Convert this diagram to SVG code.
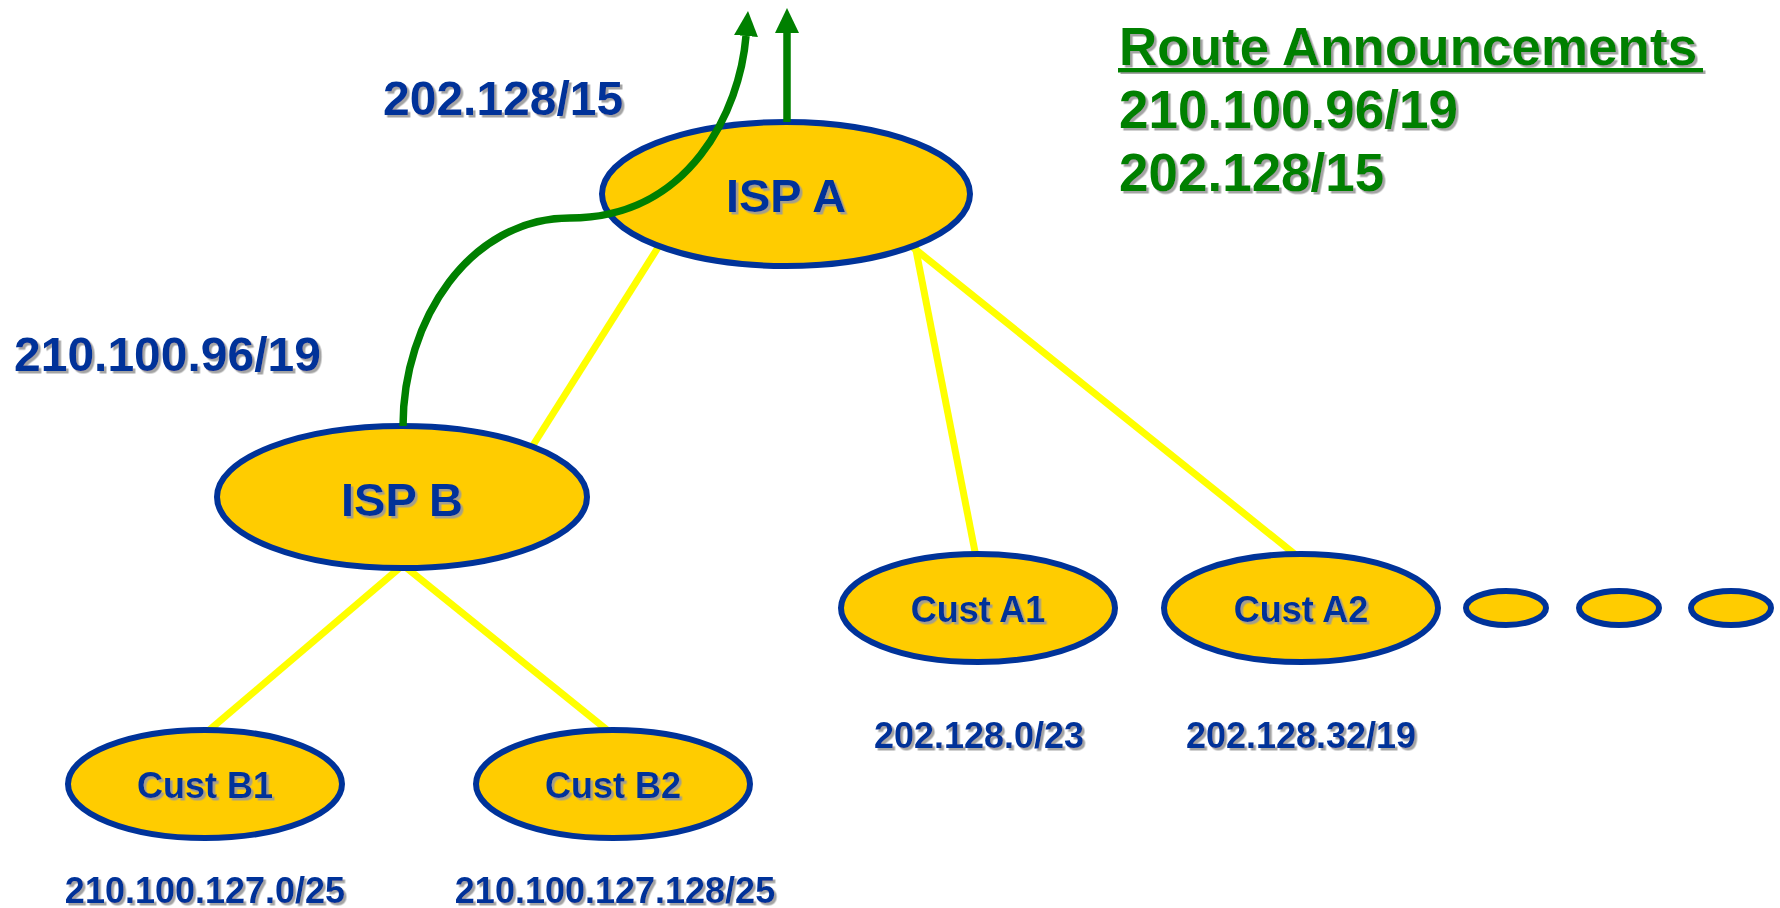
<svg xmlns="http://www.w3.org/2000/svg" width="1780" height="908" viewBox="0 0 1780 908">
<defs>
<filter id="sh" x="-10%" y="-10%" width="120%" height="130%">
<feDropShadow dx="2.5" dy="2.5" stdDeviation="0.6" flood-color="#9a9a9a" flood-opacity="0.9"/>
</filter>
<marker id="ah" viewBox="0 0 25 24" refX="0" refY="12" markerWidth="25" markerHeight="24" markerUnits="userSpaceOnUse" orient="auto">
<path d="M0,0 L25,12 L0,24 z" fill="#008000"/>
</marker>
</defs>
<style>
.node{fill:#FFCC00;stroke:#003399;stroke-width:6}
.link{stroke:#FFFF00;stroke-width:7;fill:none}
.ann{stroke:#008000;stroke-width:7.5;fill:none}
text{font-family:"Liberation Sans",Arial,sans-serif;font-weight:bold;filter:url(#sh)}
.blue{fill:#003399}
.green{fill:#008000}
.big{font-size:47px;text-anchor:middle}
.cust{font-size:36px;text-anchor:middle}
.lbl{font-size:48px}
.ga{font-size:53px}
</style>
<rect width="1780" height="908" fill="#FFFFFF"/>
<g id="connectors">
<line class="link" x1="664" y1="238" x2="530" y2="450"/>
<line class="link" x1="914" y1="240" x2="977" y2="562"/>
<line class="link" x1="910" y1="245" x2="1302" y2="560"/>
<line class="link" x1="403" y1="565" x2="200" y2="738"/>
<line class="link" x1="403" y1="565" x2="617" y2="738"/>
</g>
<g id="isp-a"><ellipse class="node" cx="786" cy="194" rx="184" ry="72"/><text class="big blue" x="786" y="212">ISP A</text></g>
<g id="isp-b"><ellipse class="node" cx="402" cy="497" rx="185" ry="71"/><text class="big blue" x="402" y="516">ISP B</text></g>
<g id="cust-a1"><ellipse class="node" cx="978" cy="608" rx="137" ry="54"/><text class="cust blue" x="978" y="622">Cust A1</text></g>
<g id="cust-a2"><ellipse class="node" cx="1301" cy="608" rx="137" ry="54"/><text class="cust blue" x="1301" y="622">Cust A2</text></g>
<g id="cust-a3"><ellipse class="node" cx="1506" cy="608" rx="40" ry="17"/></g>
<g id="cust-a4"><ellipse class="node" cx="1619" cy="608" rx="40" ry="17"/></g>
<g id="cust-a5"><ellipse class="node" cx="1731" cy="608" rx="40" ry="17"/></g>
<g id="cust-b1"><ellipse class="node" cx="205" cy="784" rx="137" ry="54"/><text class="cust blue" x="205" y="798">Cust B1</text></g>
<g id="cust-b2"><ellipse class="node" cx="613" cy="784" rx="137" ry="54"/><text class="cust blue" x="613" y="798">Cust B2</text></g>
<g id="announcement-arrows">
<path class="ann" d="M403,426 C403,320 470,218 570,218 C690,218 740,110 746,36" marker-end="url(#ah)"/>
<line class="ann" x1="787" y1="122" x2="787" y2="33" marker-end="url(#ah)"/>
</g>
<g id="labels">
<text class="lbl blue" x="383" y="115">202.128/15</text>
<text class="lbl blue" x="14" y="371">210.100.96/19</text>
<text class="cust blue" x="979" y="748">202.128.0/23</text>
<text class="cust blue" x="1301" y="748">202.128.32/19</text>
<text class="cust blue" x="205" y="903">210.100.127.0/25</text>
<text class="cust blue" x="615" y="903">210.100.127.128/25</text>
</g>
<g id="route-announcements">
<text class="ga green" x="1119" y="65">Route Announcements</text>
<rect x="1118" y="68" width="585" height="4.5" fill="#008000" filter="url(#sh)"/>
<text class="ga green" x="1119" y="128">210.100.96/19</text>
<text class="ga green" x="1119" y="191">202.128/15</text>
</g>
</svg>
